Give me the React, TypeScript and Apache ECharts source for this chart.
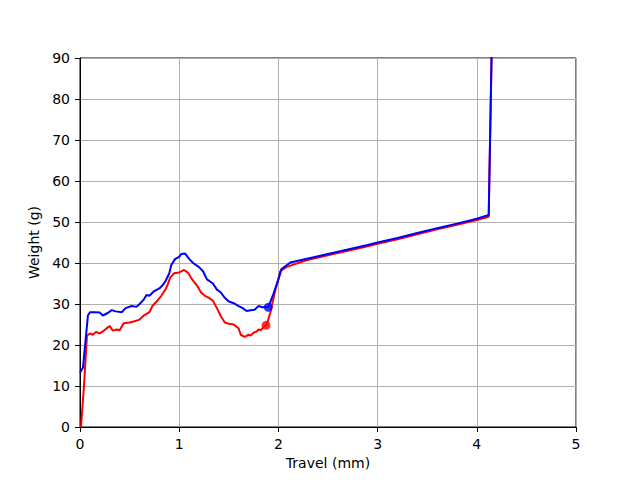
import React, { useEffect, useRef } from "react";
import * as echarts from "echarts";

const xTicks = [0, 1, 2, 3, 4, 5];
const yTicks = [0, 10, 20, 30, 40, 50, 60, 70, 80, 90];

const redSeries: [number, number][] = [
  [0.01, 0], [0.04, 10], [0.07, 22.3], [0.1, 22.8], [0.13, 22.5], [0.16, 23.2], [0.2, 22.8],
  [0.24, 23.5], [0.28, 24.3], [0.3, 24.6], [0.33, 23.5], [0.37, 23.8], [0.4, 23.6], [0.44, 25.3],
  [0.5, 25.5], [0.55, 25.8], [0.6, 26.2], [0.65, 27.3], [0.7, 28], [0.73, 29.5], [0.78, 30.8],
  [0.82, 32], [0.86, 33.5], [0.88, 34.5], [0.91, 36.5], [0.95, 37.5], [1.0, 37.7], [1.05, 38.3],
  [1.09, 37.6], [1.13, 36], [1.18, 34.5], [1.22, 32.8], [1.26, 32], [1.3, 31.5], [1.34, 30.8],
  [1.38, 29], [1.42, 27], [1.46, 25.5], [1.5, 25.2], [1.55, 25], [1.6, 24], [1.62, 22.5],
  [1.66, 22], [1.7, 22.5], [1.72, 22.3], [1.75, 23], [1.78, 23.3], [1.8, 23.8], [1.82, 23.6],
  [1.86, 24.6], [1.88, 24.8],
  [1.92, 28], [1.97, 33.5], [2.02, 38], [2.08, 39], [2.15, 39.6], [2.3, 40.8], [2.5, 41.9],
  [2.7, 43], [2.9, 44.1], [3.0, 44.7], [3.2, 45.8], [3.4, 47], [3.6, 48.2], [3.8, 49.3],
  [4.0, 50.5], [4.12, 51.3], [4.15, 92],
];

const blueSeries: [number, number][] = [
  [0.0, 13.2], [0.03, 14.5], [0.08, 27.2], [0.1, 28], [0.15, 28], [0.2, 27.9], [0.23, 27.2],
  [0.28, 27.8], [0.32, 28.5], [0.36, 28.2], [0.42, 28], [0.46, 29], [0.52, 29.5], [0.57, 29.3],
  [0.6, 30], [0.64, 31], [0.67, 32.2], [0.7, 32], [0.74, 33], [0.8, 33.8], [0.83, 34.5],
  [0.86, 35.5], [0.9, 37.5], [0.92, 39.5], [0.96, 41], [1.0, 41.5], [1.02, 42.2], [1.06, 42.3],
  [1.1, 41], [1.14, 40], [1.2, 39], [1.24, 38], [1.28, 36], [1.34, 35], [1.38, 33.5],
  [1.42, 32.8], [1.46, 31.5], [1.5, 30.6], [1.55, 30.2], [1.6, 29.5], [1.64, 29], [1.68, 28.3],
  [1.72, 28.5], [1.76, 28.6], [1.8, 29.5], [1.84, 29.2], [1.9, 29.3], [1.95, 32.5], [2.0, 36],
  [2.03, 38.5], [2.08, 39.4], [2.12, 40.1], [2.3, 41.1], [2.5, 42.2], [2.7, 43.3], [2.9, 44.4],
  [3.0, 45.0], [3.2, 46.1], [3.4, 47.3], [3.6, 48.5], [3.8, 49.6], [4.0, 50.8], [4.12, 51.7],
  [4.15, 92],
];

const redMarker: [number, number][] = [[1.875, 24.8]];
const blueMarker: [number, number][] = [[1.898, 29.2]];

const FONT = "DejaVu Sans";

export default function App() {
  const ref = useRef<HTMLDivElement>(null);
  useEffect(() => {
    if (!ref.current) return;
    const chart = echarts.init(ref.current, undefined, { renderer: "svg" });
    chart.setOption({
      animation: false,
      backgroundColor: "#ffffff",
      textStyle: { fontFamily: FONT },
      grid: {
        left: 80,
        right: 64,
        top: 58,
        bottom: 53,
        show: true,
        borderColor: "#000000",
        borderWidth: 1,
        backgroundColor: "transparent",
      },
      xAxis: {
        type: "value",
        min: xTicks[0],
        max: xTicks[xTicks.length - 1],
        interval: 1,
        name: "Travel (mm)",
        nameLocation: "middle",
        nameGap: 29,
        nameTextStyle: { color: "#000", fontSize: 14, fontFamily: FONT },
        axisLine: { show: true, onZero: false, lineStyle: { color: "#000", width: 1 } },
        axisTick: { show: true, length: 5, inside: false, lineStyle: { color: "#000", width: 1 } },
        axisLabel: { color: "#000", fontSize: 14, margin: 10, fontFamily: FONT },
        splitLine: { show: true, lineStyle: { color: "#b0b0b0", width: 1 } },
      },
      yAxis: {
        type: "value",
        min: yTicks[0],
        max: yTicks[yTicks.length - 1],
        interval: 10,
        name: "Weight (g)",
        nameLocation: "middle",
        nameGap: 29,
        nameRotate: 90,
        nameTextStyle: { color: "#000", fontSize: 14, fontFamily: FONT },
        axisLine: { show: true, onZero: false, lineStyle: { color: "#000", width: 1 } },
        axisTick: { show: true, length: 5, inside: false, lineStyle: { color: "#000", width: 1 } },
        axisLabel: { color: "#000", fontSize: 14, margin: 10, fontFamily: FONT },
        splitLine: { show: true, lineStyle: { color: "#b0b0b0", width: 1 } },
      },
      series: [
        {
          type: "line",
          data: redSeries,
          showSymbol: false,
          symbol: "none",
          clip: true,
          lineStyle: { color: "#ff0000", width: 2 },
          z: 2,
        },
        {
          type: "line",
          data: blueSeries,
          showSymbol: false,
          symbol: "none",
          clip: true,
          lineStyle: { color: "#0000ff", width: 2 },
          z: 3,
        },
        {
          type: "scatter",
          data: redMarker,
          symbol: "circle",
          symbolSize: 9,
          itemStyle: { color: "#ff0000" },
          z: 4,
        },
        {
          type: "scatter",
          data: blueMarker,
          symbol: "circle",
          symbolSize: 9,
          itemStyle: { color: "#0000ff" },
          z: 5,
        },
      ],
    });
    return () => chart.dispose();
  }, []);
  return (
    <div
      ref={ref}
      style={{ position: "fixed", left: 0, top: 0, width: 640, height: 480, background: "#fff" }}
    />
  );
}
